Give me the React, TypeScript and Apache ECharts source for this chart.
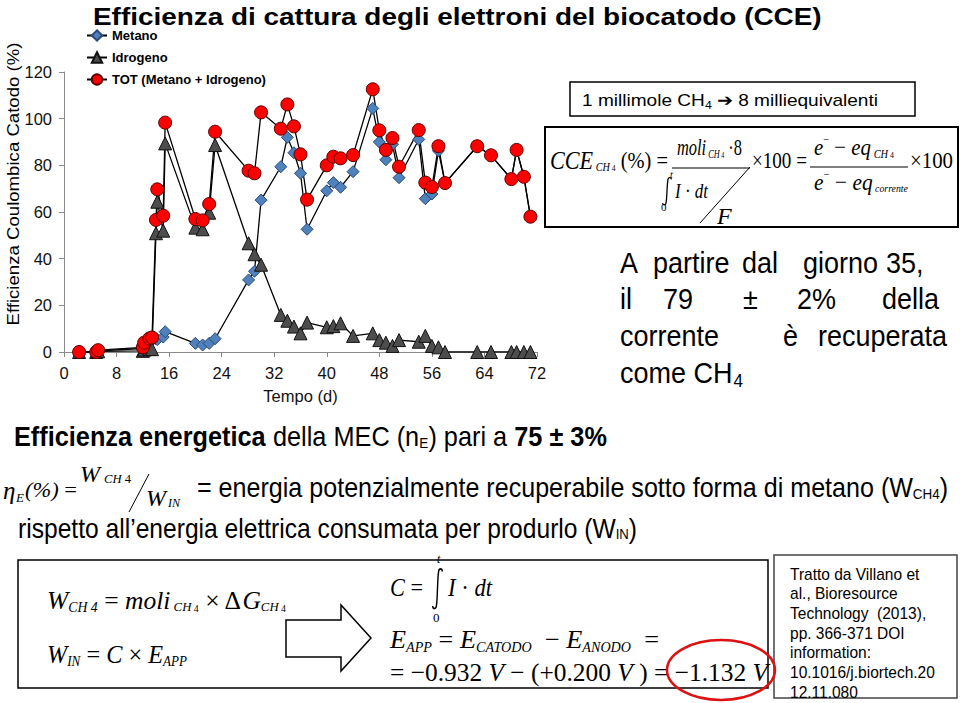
import React, { useEffect, useRef } from 'react';
import * as echarts from 'echarts';

const SANS = '"Liberation Sans", Arial, Helvetica, sans-serif';
const SERIF = '"Liberation Serif", "Times New Roman", serif';

const seriesNames = ['Metano', 'Idrogeno', 'TOT (Metano + Idrogeno)'];
const days = [2.3, 4.9, 5.2, 12.0, 12.2, 13.0, 13.4, 14.0, 14.2, 15.1, 15.4, 20.0, 21.1, 22.1, 23.0, 28.1, 29.0, 30.0, 33.0, 34.0, 35.0, 36.0, 37.0, 40.0, 41.0, 42.1, 44.0, 47.0, 48.0, 49.0, 50.0, 51.0, 54.0, 55.0, 56.0, 57.0, 58.0, 62.9, 65.0, 68.1, 68.9, 70.0, 71.0];
const metano = [0, 0, 0.5, 1.5, 3, 4.5, 5, 5.7, 5.3, 6.4, 8.7, 3.7, 3.0, 3.7, 5.7, 30.9, 34.6, 65.1, 79.4, 92, 85.4, 76.6, 52.6, 69.1, 72.6, 70.6, 77.3, 104.4, 90, 82.4, 89, 74.7, 91.1, 65.7, 67.7, 86.2, 72.4, 88.2, 84.3, 74.1, 86.6, 75.1, 58];
const idrogeno = [0, 0, 0.3, 0.5, 1, 1.3, 1.2, 50.9, 64.4, 52, 89.4, 53.3, 52.6, 59.7, 88.7, 46.6, 41.9, 37.4, 15.9, 13.4, 10.9, 8, 12.6, 10.6, 11.1, 12.3, 6.9, 8, 5.1, 4, 2.6, 5.1, 4.4, 6.9, 2.6, 2, 0, 0, 0, 0, 0, 0, 0];
const tot = [0, 0, 0.8, 2, 4, 5.8, 6.2, 56.6, 69.7, 58.4, 98.3, 57, 56.4, 63.4, 94.4, 77.7, 76.6, 102.7, 95.7, 106.1, 96.7, 84.7, 65.3, 80, 83.7, 83, 84.4, 112.6, 95, 86.6, 91.7, 79.4, 95.1, 72.6, 70.7, 88.2, 72.4, 88.2, 84.3, 74.1, 86.6, 75.1, 58];

// integral sign drawn as a stroked path (unit box ~10 x 30)
echarts.graphic.registerShape(
  'integral',
  echarts.graphic.extendPath('M9.5,2.5 C9,0 6.5,0 6,2.5 C5.2,7 5.2,12 5,15 C4.8,18 4.8,23 4,27.5 C3.5,30 1,30 0.5,27.5', {})
);

type Seg = { t: string; size?: number; fam?: string; bold?: boolean; it?: boolean; dy?: number };
type Base = { size: number; fam: string; bold?: boolean; it?: boolean; fill?: string };

let mctx: CanvasRenderingContext2D | null = null;
function fontStr(size: number, fam: string, bold: boolean, it: boolean) {
  return `${it ? 'italic ' : ''}${bold ? 'bold ' : ''}${size}px ${fam}`;
}
function measure(text: string, font: string) {
  if (!mctx) mctx = document.createElement('canvas').getContext('2d');
  mctx!.font = font;
  return mctx!.measureText(text).width;
}

function run(x: number, y: number, segs: Seg[], base: Base, target?: number): any[] {
  const items: any[] = [];
  let cur = 0;
  for (const s of segs) {
    const size = s.size ?? base.size;
    const fam = s.fam ?? base.fam;
    const bold = s.bold ?? base.bold ?? false;
    const it = s.it ?? base.it ?? false;
    const font = fontStr(size, fam, bold, it);
    const lead = (s.t.match(/^\s*/) || [''])[0];
    const body = s.t.trim();
    const off = cur + (lead ? measure(lead, font) : 0);
    cur += measure(s.t, font);
    if (body) items.push({ body, off, size, fam, bold, it, dy: s.dy || 0 });
  }
  const k = target ? target / cur : 1;
  return items.map((i) => ({
    type: 'text',
    x: x + i.off * k,
    y: y + i.dy,
    scaleX: k,
    silent: true,
    z: 10,
    style: {
      text: i.body,
      fontSize: i.size,
      fontFamily: i.fam,
      fontWeight: i.bold ? 'bold' : 'normal',
      fontStyle: i.it ? 'italic' : 'normal',
      fill: base.fill || '#000',
      align: 'left',
      verticalAlign: 'middle',
    },
  }));
}

function word(x: number, y: number, text: string, size: number, k: number, fam = SANS, it = false): any {
  return {
    type: 'text', x, y, scaleX: k, silent: true, z: 10,
    style: { text, fontSize: size, fontFamily: fam, fontStyle: it ? 'italic' : 'normal', fill: '#000', align: 'left', verticalAlign: 'middle' },
  };
}

function line(x1: number, y1: number, x2: number, y2: number, w = 1.2, c = '#000'): any {
  return { type: 'line', silent: true, z: 10, shape: { x1, y1, x2, y2 }, style: { stroke: c, lineWidth: w } };
}
function box(x: number, y: number, w: number, h: number, lw = 1.5, c = '#000'): any {
  return { type: 'rect', silent: true, z: 5, shape: { x, y, width: w, height: h }, style: { fill: 'none', stroke: c, lineWidth: lw } };
}
function integral(x: number, y: number, sx: number, sy: number): any {
  return { type: 'integral', x, y, scaleX: sx, scaleY: sy, silent: true, z: 10, style: { fill: 'none', stroke: '#000', lineWidth: 1.3 } };
}

function buildGraphics(): any[] {
  const g: any[] = [];
  // Title
  g.push(...run(93, 17, [{ t: 'Efficienza di cattura degli elettroni del biocatodo (CCE)' }], { size: 23, fam: SANS, bold: true }, 729));
  // Y axis title (rotated)
  {
    const text = 'Efficienza Coulombica Catodo (%)';
    const w = measure(text, fontStr(16.5, SANS, false, false));
    g.push({
      type: 'text', x: 13, y: 184, rotation: Math.PI / 2, scaleX: 283 / w, silent: true, z: 10,
      style: { text, fontSize: 16.5, fontFamily: SANS, fill: '#000', align: 'center', verticalAlign: 'middle' },
    });
  }
  // Box 1
  g.push(box(570, 82, 345, 34, 1.5));
  g.push(...run(582, 100, [{ t: '1 millimole CH' }, { t: '4', size: 11, dy: 5 }, { t: ' \u2794 8 milliequivalenti' }], { size: 17, fam: SANS }, 296));
  // Box 2 - CCE formula
  g.push(box(545, 127, 413, 100, 2));
  g.push(...run(550, 160, [
    { t: 'CCE', it: true, size: 26 },
    { t: ' CH', it: true, size: 12, dy: 7 },
    { t: ' 4', size: 9, dy: 8 },
    { t: ' (%)' },
    { t: ' =' },
  ], { size: 24, fam: SERIF }, 118));
  g.push(...run(677, 147, [
    { t: 'moli', it: true },
    { t: ' CH', it: true, size: 12, dy: 7 },
    { t: ' 4', size: 9, dy: 8 },
    { t: ' \u00B78' },
  ], { size: 24, fam: SERIF }, 65));
  g.push(line(672, 168, 750, 168, 1.2));
  g.push(line(700, 223, 750, 167, 1));
  g.push(integral(662, 177, 1, 0.95));
  g.push(word(670, 174, 't', 10, 1, SERIF, true));
  g.push(word(661, 207, '0', 11, 1, SERIF));
  g.push(...run(675, 190, [{ t: 'I', it: true }, { t: ' \u00B7 ' }, { t: 'dt', it: true }], { size: 22, fam: SERIF }, 33));
  g.push(word(717, 216, 'F', 24, 1, SERIF, true));
  g.push(...run(752, 160, [{ t: '\u00D7100' }, { t: ' =' }], { size: 24, fam: SERIF }, 55));
  g.push(...run(814, 147, [
    { t: 'e', it: true },
    { t: '\u2212', size: 12, dy: -8 },
    { t: ' \u2212 ' },
    { t: 'eq', it: true },
    { t: ' CH', it: true, size: 12, dy: 7 },
    { t: ' 4', size: 9, dy: 8 },
  ], { size: 24, fam: SERIF }, 80));
  g.push(line(810, 167, 908, 167, 1.2));
  g.push(...run(814, 182, [
    { t: 'e', it: true },
    { t: '\u2212', size: 12, dy: -8 },
    { t: ' \u2212 ' },
    { t: 'eq', it: true },
    { t: ' corrente', it: true, size: 11, dy: 6 },
  ], { size: 24, fam: SERIF }, 94));
  g.push(...run(910, 160, [{ t: '\u00D7100' }], { size: 24, fam: SERIF }, 43));

  // "A partire dal giorno 35..." justified block
  const S = 30, K = 0.9;
  [['A', 620], ['partire', 653], ['dal', 742], ['giorno', 803], ['35,', 886]].forEach(([t, x]) => g.push(word(x as number, 262, t as string, S, K)));
  [['il', 620], ['79', 663], ['\u00B1', 743], ['2%', 797], ['della', 882]].forEach(([t, x]) => g.push(word(x as number, 298, t as string, S, K)));
  [['corrente', 620], ['\u00E8', 783], ['recuperata', 818]].forEach(([t, x]) => g.push(word(x as number, 335, t as string, S, K)));
  g.push(word(620, 372, 'come CH', S, K));
  g.push(word(620 + measure('come CH', fontStr(S, SANS, false, false)) * K + 1, 381, '4', 19, K));

  // Efficienza energetica
  g.push(...run(14, 437, [
    { t: 'Efficienza energetica', bold: true },
    { t: ' della MEC (n' },
    { t: 'E', size: 15, dy: 6 },
    { t: ') pari a ' },
    { t: '75 \u00B1 3%', bold: true },
  ], { size: 28, fam: SANS }, 593));
  // eta formula
  g.push(word(3, 490, '\u03B7', 25, 1, SERIF, true));
  g.push(word(16, 497, 'E', 13, 1, SERIF, true));
  g.push(...run(25, 490, [{ t: '(%)', it: true }, { t: ' =' }], { size: 22, fam: SERIF }, 52));
  g.push(word(80, 474, 'W', 24, 1, SERIF, true));
  g.push(...run(104, 479, [{ t: 'CH', it: true }, { t: ' 4' }], { size: 12, fam: SERIF }, 27));
  g.push(line(129, 512, 149, 474, 1));
  g.push(word(146, 498, 'W', 24, 1, SERIF, true));
  g.push(word(168, 503, 'IN', 12, 1, SERIF, true));
  g.push(...run(197, 488, [
    { t: '= energia potenzialmente recuperabile sotto forma di metano (W' },
    { t: 'CH4', size: 15, dy: 6 },
    { t: ')' },
  ], { size: 28, fam: SANS }, 751));
  g.push(...run(18, 528, [
    { t: 'rispetto all\u2019energia elettrica consumata per produrlo (W' },
    { t: 'IN', size: 15, dy: 6 },
    { t: ')' },
  ], { size: 28, fam: SANS }, 619));

  // Bottom box
  g.push(box(18, 560, 750, 128, 1.5));
  g.push(...run(47, 600, [
    { t: 'W', it: true },
    { t: 'CH 4', it: true, size: 14, dy: 7 },
    { t: ' = ' },
    { t: 'moli', it: true },
    { t: ' CH', it: true, size: 13, dy: 7 },
    { t: ' 4', size: 10, dy: 8 },
    { t: ' \u00D7 \u0394' },
    { t: 'G', it: true },
    { t: 'CH', it: true, size: 13, dy: 7 },
    { t: ' 4', size: 10, dy: 8 },
  ], { size: 26, fam: SERIF }, 239));
  g.push(...run(47, 654, [
    { t: 'W', it: true },
    { t: 'IN', it: true, size: 14, dy: 7 },
    { t: ' = ' },
    { t: 'C', it: true },
    { t: ' \u00D7 ' },
    { t: 'E', it: true },
    { t: 'APP', it: true, size: 14, dy: 7 },
  ], { size: 26, fam: SERIF }, 140));
  g.push({
    type: 'polygon', silent: true, z: 10,
    shape: { points: [[286, 620], [341, 620], [341, 605], [371, 638], [341, 671], [341, 657], [286, 657]] },
    style: { fill: '#fff', stroke: '#000', lineWidth: 1.5 },
  });
  g.push(...run(390, 587, [{ t: 'C', it: true }, { t: ' =' }], { size: 26, fam: SERIF }, 33));
  g.push(integral(432, 568, 1.1, 1.38));
  g.push(word(437, 559, 't', 12, 1, SERIF, true));
  g.push(word(433, 617, '0', 13, 1, SERIF));
  g.push(...run(448, 587, [{ t: 'I', it: true }, { t: ' \u00B7 ' }, { t: 'dt', it: true }], { size: 26, fam: SERIF }, 44));
  g.push(...run(390, 640, [
    { t: 'E', it: true },
    { t: 'APP', it: true, size: 14, dy: 7 },
    { t: ' = ' },
    { t: 'E', it: true },
    { t: 'CATODO', it: true, size: 14, dy: 7 },
    { t: '  \u2212 ' },
    { t: 'E', it: true },
    { t: 'ANODO', it: true, size: 14, dy: 7 },
    { t: '  =' },
  ], { size: 26, fam: SERIF }, 269));
  g.push(...run(390, 672, [
    { t: '= \u22120.932 ' },
    { t: 'V', it: true },
    { t: ' \u2212 (+0.200 ' },
    { t: 'V', it: true },
    { t: ' ) = \u22121.132 ' },
    { t: 'V', it: true },
  ], { size: 26, fam: SERIF }, 378));
  g.push({
    type: 'ellipse', silent: true, z: 11,
    shape: { cx: 721, cy: 670, rx: 54, ry: 30 },
    style: { fill: 'none', stroke: '#d11', lineWidth: 2.5 },
  });

  // Reference box
  g.push(box(774, 555, 183, 143, 1.5, '#444'));
  ['Tratto da Villano et', 'al., Bioresource', 'Technology  (2013),', 'pp. 366-371 DOI', 'information:', '10.1016/j.biortech.20', '12.11.080'].forEach((t, i) => {
    g.push(word(790, 574 + i * 19.7, t, 16, 0.97));
  });
  return g;
}

function buildOption(): any {
  const mk = (vals: number[]) => days.map((d, i) => [d, vals[i]]);
  const axisCommon = {
    axisLine: { show: true, lineStyle: { color: '#8a8a8a', width: 1 } },
    axisTick: { show: true, length: 5, lineStyle: { color: '#8a8a8a' } },
    splitLine: { show: false },
  };
  return {
    animation: false,
    backgroundColor: '#ffffff',
    textStyle: { fontFamily: SANS },
    grid: { left: 64, top: 72, width: 473, height: 280, containLabel: false },
    legend: {
      orient: 'vertical',
      left: 81,
      top: 24,
      itemGap: 9,
      itemWidth: 20,
      itemHeight: 13,
      data: seriesNames,
      textStyle: { fontSize: 13, fontWeight: 'bold', color: '#000', fontFamily: SANS },
    },
    xAxis: {
      type: 'value',
      min: 0,
      max: 72,
      interval: 8,
      name: 'Tempo (d)',
      nameLocation: 'middle',
      nameGap: 35,
      nameTextStyle: { fontSize: 16.5, color: '#111', fontFamily: SANS },
      axisLabel: { fontSize: 16.5, color: '#111', margin: 12, fontFamily: SANS },
      ...axisCommon,
    },
    yAxis: {
      type: 'value',
      min: 0,
      max: 120,
      interval: 20,
      axisLabel: { fontSize: 16.5, color: '#111', margin: 12, fontFamily: SANS },
      ...axisCommon,
    },
    series: [
      {
        name: seriesNames[0], type: 'line', data: mk(metano),
        symbol: 'diamond', symbolSize: 12,
        itemStyle: { color: '#4F81BD', borderColor: '#2a4a78', borderWidth: 1 },
        lineStyle: { color: '#000', width: 1.3 },
      },
      {
        name: seriesNames[1], type: 'line', data: mk(idrogeno),
        symbol: 'triangle', symbolSize: 13,
        itemStyle: { color: '#4d4d4d', borderColor: '#111', borderWidth: 1 },
        lineStyle: { color: '#000', width: 1.3 },
      },
      {
        name: seriesNames[2], type: 'line', data: mk(tot),
        symbol: 'circle', symbolSize: 13,
        itemStyle: { color: '#ff0000', borderColor: '#5a0000', borderWidth: 1 },
        lineStyle: { color: '#000', width: 1.3 },
      },
    ],
    graphic: buildGraphics(),
  };
}

export default function App() {
  const ref = useRef<HTMLDivElement>(null);
  useEffect(() => {
    document.body.style.margin = '0';
    const chart = echarts.init(ref.current!, null, { renderer: 'svg' });
    chart.setOption(buildOption());
    return () => chart.dispose();
  }, []);
  return <div ref={ref} style={{ width: 960, height: 703, background: '#fff' }} />;
}
